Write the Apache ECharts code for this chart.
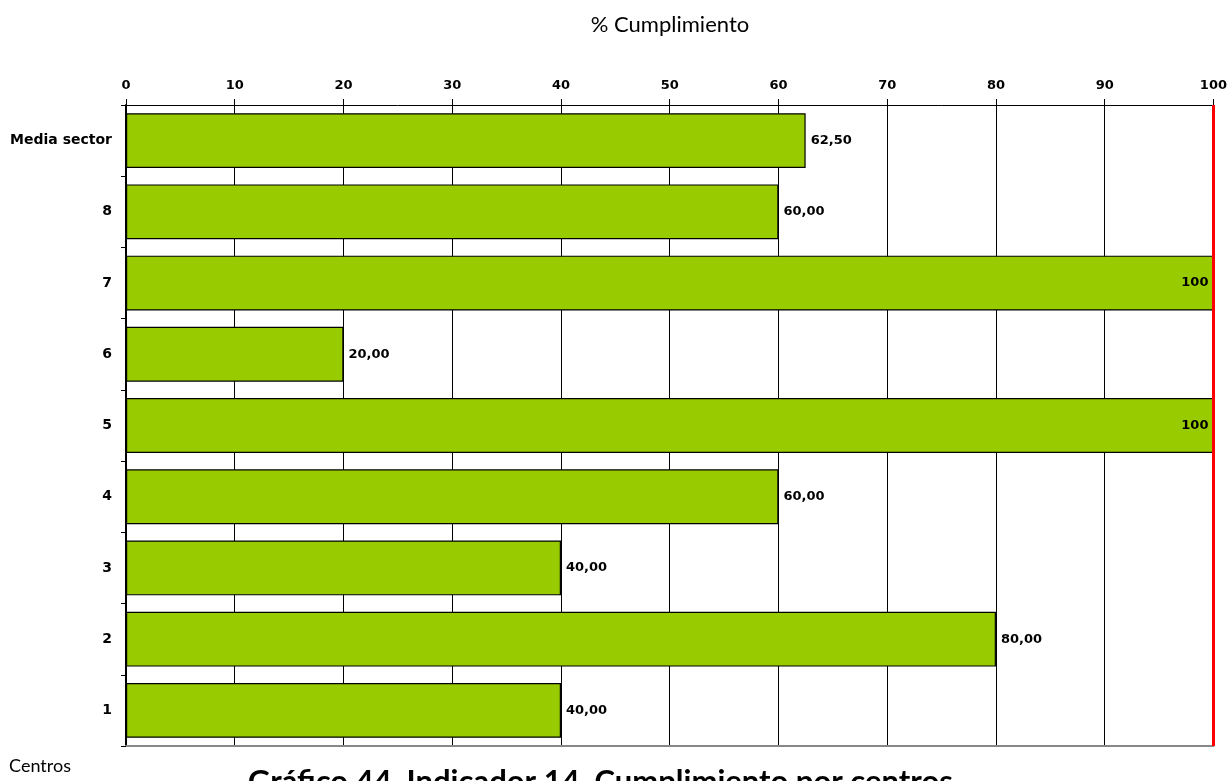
<!DOCTYPE html>
<html>
<head>
<meta charset="utf-8">
<script src="https://cdn.jsdelivr.net/npm/echarts@6/dist/echarts.min.js"></script>
<style>
  html, body { margin: 0; padding: 0; background: #fff; }
  #chart { width: 1230px; height: 781px; }
</style>
</head>
<body>
<div id="chart"></div>
<script>
// Centres listed bottom-to-top, then the sector average
const categories = ['1', '2', '3', '4', '5', '6', '7', '8', 'Media sector'];
const cumplimiento = [40, 80, 40, 60, 100, 20, 100, 60, 62.5];
const xTicks = [0, 10, 20, 30, 40, 50, 60, 70, 80, 90, 100];
const target = 100;

const fmt = v => (v === 100 ? '100' : v.toFixed(2).replace('.', ','));

const labelFont = { fontFamily: 'DejaVu Sans', fontWeight: 'bold', fontSize: 13, color: '#000' };

const chart = echarts.init(document.getElementById('chart'));
chart.setOption({
  animation: false,
  backgroundColor: '#fff',
  title: [
    {
      text: '% Cumplimiento',
      left: 665, top: 9, textAlign: 'center',
      textStyle: { fontFamily: 'Lato', fontWeight: 'normal', fontSize: 22, color: '#000' }
    },
    {
      text: 'Centros',
      left: 35, top: 752, textAlign: 'center',
      textStyle: { fontFamily: 'Lato', fontWeight: 'normal', fontSize: 18, color: '#000' }
    },
    {
      text: 'Gráfico 44. Indicador 14. Cumplimiento por centros',
      left: 243, top: 761,
      textStyle: { fontFamily: 'Lato', fontWeight: 'bold', fontSize: 31, color: '#000' }
    }
  ],
  grid: { left: 126, right: 16, top: 105, bottom: 35 },
  xAxis: [
    {
      type: 'value', position: 'top', min: xTicks[0], max: xTicks[xTicks.length - 1],
      interval: xTicks[1] - xTicks[0],
      axisLine: { show: true, lineStyle: { color: '#000', width: 1 } },
      axisTick: { show: true, inside: false, length: 6, lineStyle: { color: '#000' } },
      axisLabel: { ...labelFont, margin: 13 },
      splitLine: { show: true, lineStyle: { color: '#000', width: 1 } }
    },
    {
      type: 'value', position: 'bottom', min: 0, max: 100,
      axisLine: { show: true, lineStyle: { color: '#888', width: 2 } },
      axisTick: { show: false }, axisLabel: { show: false }, splitLine: { show: false }
    }
  ],
  yAxis: {
    type: 'category', data: categories,
    axisLine: { show: true, lineStyle: { color: '#000', width: 2 } },
    axisTick: { show: true, inside: false, length: 5, lineStyle: { color: '#000' } },
    axisLabel: { ...labelFont, fontSize: 14, margin: 14 }
  },
  series: [{
    type: 'bar',
    xAxisIndex: 0,
    barCategoryGap: '23%',
    data: cumplimiento.map(v => ({
      value: v,
      label: { position: v === 100 ? 'insideRight' : 'right', distance: 5 }
    })),
    itemStyle: { color: '#99CC00', borderColor: '#000', borderWidth: 1.2 },
    label: { show: true, ...labelFont, formatter: p => fmt(p.value) },
    markLine: {
      silent: true, symbol: 'none', label: { show: false },
      lineStyle: { color: '#FF0000', width: 3, type: 'solid' },
      data: [{ xAxis: target }]
    }
  }]
});
</script>
</body>
</html>
